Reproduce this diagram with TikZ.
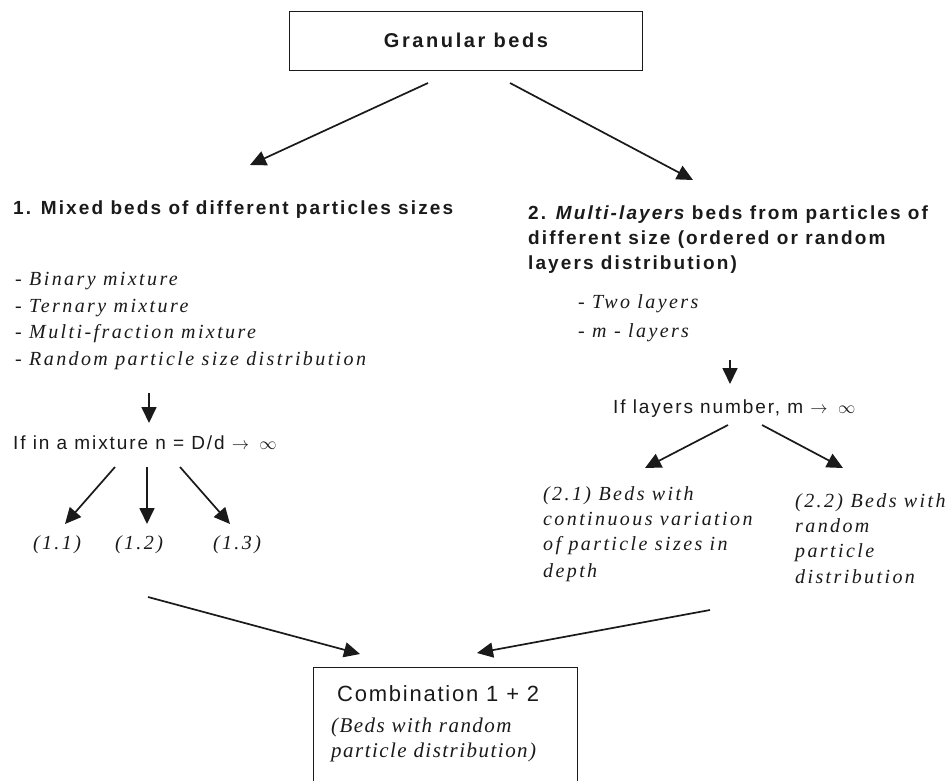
\documentclass[tikz,border=0pt]{standalone}
\usepackage{fontspec}
\setmainfont{Liberation Serif}
\setsansfont{Liberation Sans}
\usetikzlibrary{arrows.meta}
\newfontfamily\hdfont[LetterSpace=11]{Liberation Sans}
\newfontfamily\gbfont[LetterSpace=13]{Liberation Sans}
\newfontfamily\itfont[LetterSpace=12]{Liberation Serif}
\newfontfamily\rgfont[LetterSpace=10]{Liberation Sans}
\newfontfamily\cbfont[LetterSpace=8]{Liberation Sans}
\newfontfamily\itbfont[LetterSpace=7]{Liberation Serif}
\definecolor{ink}{HTML}{1A1A1A}
\newcommand{\toinf}{\ $\rightarrow$\ \,$\infty$}
\begin{document}
\begin{tikzpicture}[x=1pt,y=-1pt,
  txt/.style={inner sep=0pt, anchor=base west, text=ink},
  head/.style={txt, font=\hdfont\bfseries\fontsize{19}{22}\selectfont},
  item/.style={txt, font=\itfont\itshape\fontsize{20}{23}\selectfont},
  cond/.style={txt, font=\rgfont\fontsize{19}{22}\selectfont},
  arr/.style={draw=ink, line width=1.7pt, -{Triangle[length=16pt,width=15pt]}},
  boxed/.style={draw=ink, line width=1.4pt, inner sep=0pt}
]
\useasboundingbox (0,0) rectangle (950,780);
\clip (0,0) rectangle (950,780);
\fill[white] (0,0) rectangle (950,780);

% top box
\node[boxed, minimum width=353pt, minimum height=59pt, anchor=north west] (topbox) at (289,11) {};
\node[txt, anchor=base, font=\gbfont\bfseries\fontsize{20}{23}\selectfont] (gb) at (466,47) {Granular beds};

\coordinate (a1s) at (428,83); \coordinate (a1e) at (250,165);
\coordinate (a2s) at (510,83); \coordinate (a2e) at (693,180);
\draw[arr] (a1s) -- (a1e);
\draw[arr] (a2s) -- (a2e);

% left branch
\node[head] (h1) at (13,214) {1. Mixed beds of different particles sizes};
\node[item] (l1) at (15,285) {- Binary mixture};
\node[item] (l2) at (15,312) {- Ternary mixture};
\node[item] (l3) at (15,338) {- Multi-fraction mixture};
\node[item] (l4) at (15,365) {- Random particle size distribution};
\coordinate (b1s) at (149,393); \coordinate (b1e) at (149,423);
\draw[arr] (b1s) -- (b1e);
\node[cond] (c1) at (13,449) {If in a mixture n = D/d\toinf};
\coordinate (c11s) at (115,467); \coordinate (c11e) at (65,524);
\coordinate (c12s) at (147,467); \coordinate (c12e) at (147,524);
\coordinate (c13s) at (180,467); \coordinate (c13e) at (230,524);
\draw[arr] (c11s) -- (c11e);
\draw[arr] (c12s) -- (c12e);
\draw[arr] (c13s) -- (c13e);
\node[item, anchor=base] (r11) at (57,549) {(1.1)};
\node[item, anchor=base] (r12) at (139,549) {(1.2)};
\node[item, anchor=base] (r13) at (237,549) {(1.3)};

% right branch
\node[head] (h2a) at (528,219) {2. {\itshape Multi-layers} beds from particles of};
\node[head] (h2b) at (528,244) {different size (ordered or random};
\node[head] (h2c) at (528,269) {layers distribution)};
\node[item] (m1) at (578,308) {- Two layers};
\node[item] (m2) at (578,337) {- m - layers};
\coordinate (b2s) at (730,360); \coordinate (b2e) at (730,384);
\draw[arr] (b2s) -- (b2e);
\node[cond] (c2) at (613,413) {If layers number, m\toinf};
\coordinate (c21s) at (728,425); \coordinate (c21e) at (645,468);
\coordinate (c22s) at (762,425); \coordinate (c22e) at (843,468);
\draw[arr] (c21s) -- (c21e);
\draw[arr] (c22s) -- (c22e);
\node[item] (p1) at (543,500) {(2.1) Beds with};
\node[item] (p2) at (543,525) {continuous variation};
\node[item] (p3) at (543,550) {of particle sizes in};
\node[item] (p4) at (543,577) {depth};
\node[item] (q1) at (795,507) {(2.2) Beds with};
\node[item] (q2) at (795,532) {random};
\node[item] (q3) at (795,557) {particle};
\node[item] (q4) at (795,583) {distribution};

% bottom
\coordinate (d1s) at (148,597); \coordinate (d1e) at (360,654);
\coordinate (d2s) at (710,610); \coordinate (d2e) at (477,653);
\draw[arr] (d1s) -- (d1e);
\draw[arr] (d2s) -- (d2e);
\node[boxed, minimum width=264pt, minimum height=160pt, anchor=north west] (combo) at (313,667) {};
\node[txt, font=\cbfont\fontsize{22}{25}\selectfont] (k1) at (337,701) {Combination 1 + 2};
\node[txt, font=\itbfont\itshape\fontsize{21}{24}\selectfont] (k2) at (331,732) {(Beds with random};
\node[txt, font=\itbfont\itshape\fontsize{21}{24}\selectfont] (k3) at (331,757) {particle distribution)};
\end{tikzpicture}
\end{document}
